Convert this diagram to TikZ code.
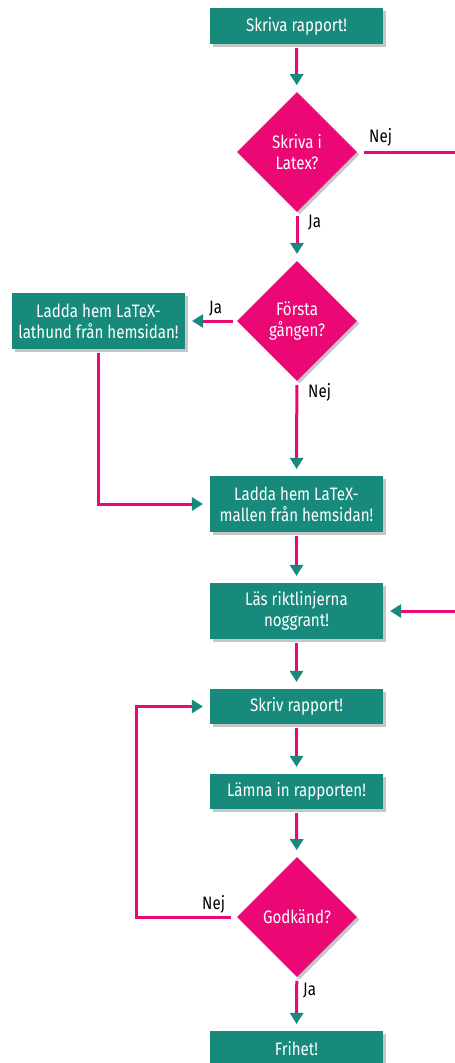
\documentclass[tikz,border=0pt]{standalone}
\usepackage{fontspec}
\setmainfont[FakeStretch=0.84]{Fira Sans}
\usetikzlibrary{shapes.geometric,arrows.meta,shadows}
\definecolor{teal1}{RGB}{24,138,124}
\definecolor{pink1}{RGB}{236,8,116}
\begin{document}
\begin{tikzpicture}[x=1pt,y=-1pt,
  shd/.style={drop shadow={shadow xshift=2.5pt,shadow yshift=-2.5pt,opacity=.45}},
  box/.style={shd,fill=teal1,text=white,minimum width=173pt,inner sep=0pt,align=center,font=\fontsize{18}{21}\selectfont},
  dia/.style={shd,diamond,aspect=1,fill=pink1,text=white,minimum size=120pt,inner sep=0pt,align=center,font=\fontsize{18}{21}\selectfont},
  conn/.style={draw=pink1,line width=3pt,-{Triangle[width=14pt,length=11pt,sep=2pt,color=teal1,line width=0pt]},shorten <=4pt,shorten >=5pt},
  lbl/.style={text=black,font=\fontsize{18}{21}\selectfont,inner sep=0pt}
]
\useasboundingbox (0,0) rectangle (455,1063);
\clip (0,0) rectangle (455,1063);
\node[box,minimum height=36pt] (b1) at (296.5,26) {Skriva rapport!};
\node[dia] (d1) at (297,152) {Skriva i\\Latex?};
\node[dia] (d2) at (297,321) {Första\\gången?};
\node[box,minimum height=56pt] (lat) at (98.5,321) {Ladda hem LaTeX-\\lathund från hemsidan!};
\node[box,minimum height=56pt] (mal) at (296.5,504) {Ladda hem LaTeX-\\mallen från hemsidan!};
\node[box,minimum height=56pt] (las) at (296.5,611) {Läs riktlinjerna\\noggrant!};
\node[box,minimum height=35pt] (skr) at (296.5,706.5) {Skriv rapport!};
\node[box,minimum height=35pt] (lam) at (296.5,791.5) {Lämna in rapporten!};
\node[dia] (d3) at (297,917) {Godkänd?};
\node[box,minimum height=36pt] (fri) at (296.5,1049) {Frihet!};
\coordinate (rr) at (462,152);
\coordinate (ll) at (136,917);
\draw[conn] (b1) -- (d1);
\draw[conn] (d1) -- (d2);
\draw[conn,shorten <=7pt] (d1.east) -- (rr) |- (las.east);
\draw[conn] (d2.west) -- (lat.east);
\draw[conn] (d2) -- (mal);
\draw[conn] (lat.south) |- (mal.west);
\draw[conn] (mal) -- (las);
\draw[conn] (las) -- (skr);
\draw[conn] (skr) -- (lam);
\draw[conn] (lam) -- (d3);
\draw[conn,shorten <=6pt] (d3.west) -- (ll) |- (skr.west);
\draw[conn] (d3) -- (fri);
\node[lbl,anchor=south west] (n1) at (369,147) {Nej};
\node[lbl,anchor=west] (j1) at (308,223) {Ja};
\node[lbl,anchor=west] (j2) at (209,309) {Ja};
\node[lbl,anchor=west] (n2) at (308,392) {Nej};
\node[lbl,anchor=west] (n3) at (202,904) {Nej};
\node[lbl,anchor=west] (j3) at (303,991) {Ja};
\end{tikzpicture}
\end{document}
